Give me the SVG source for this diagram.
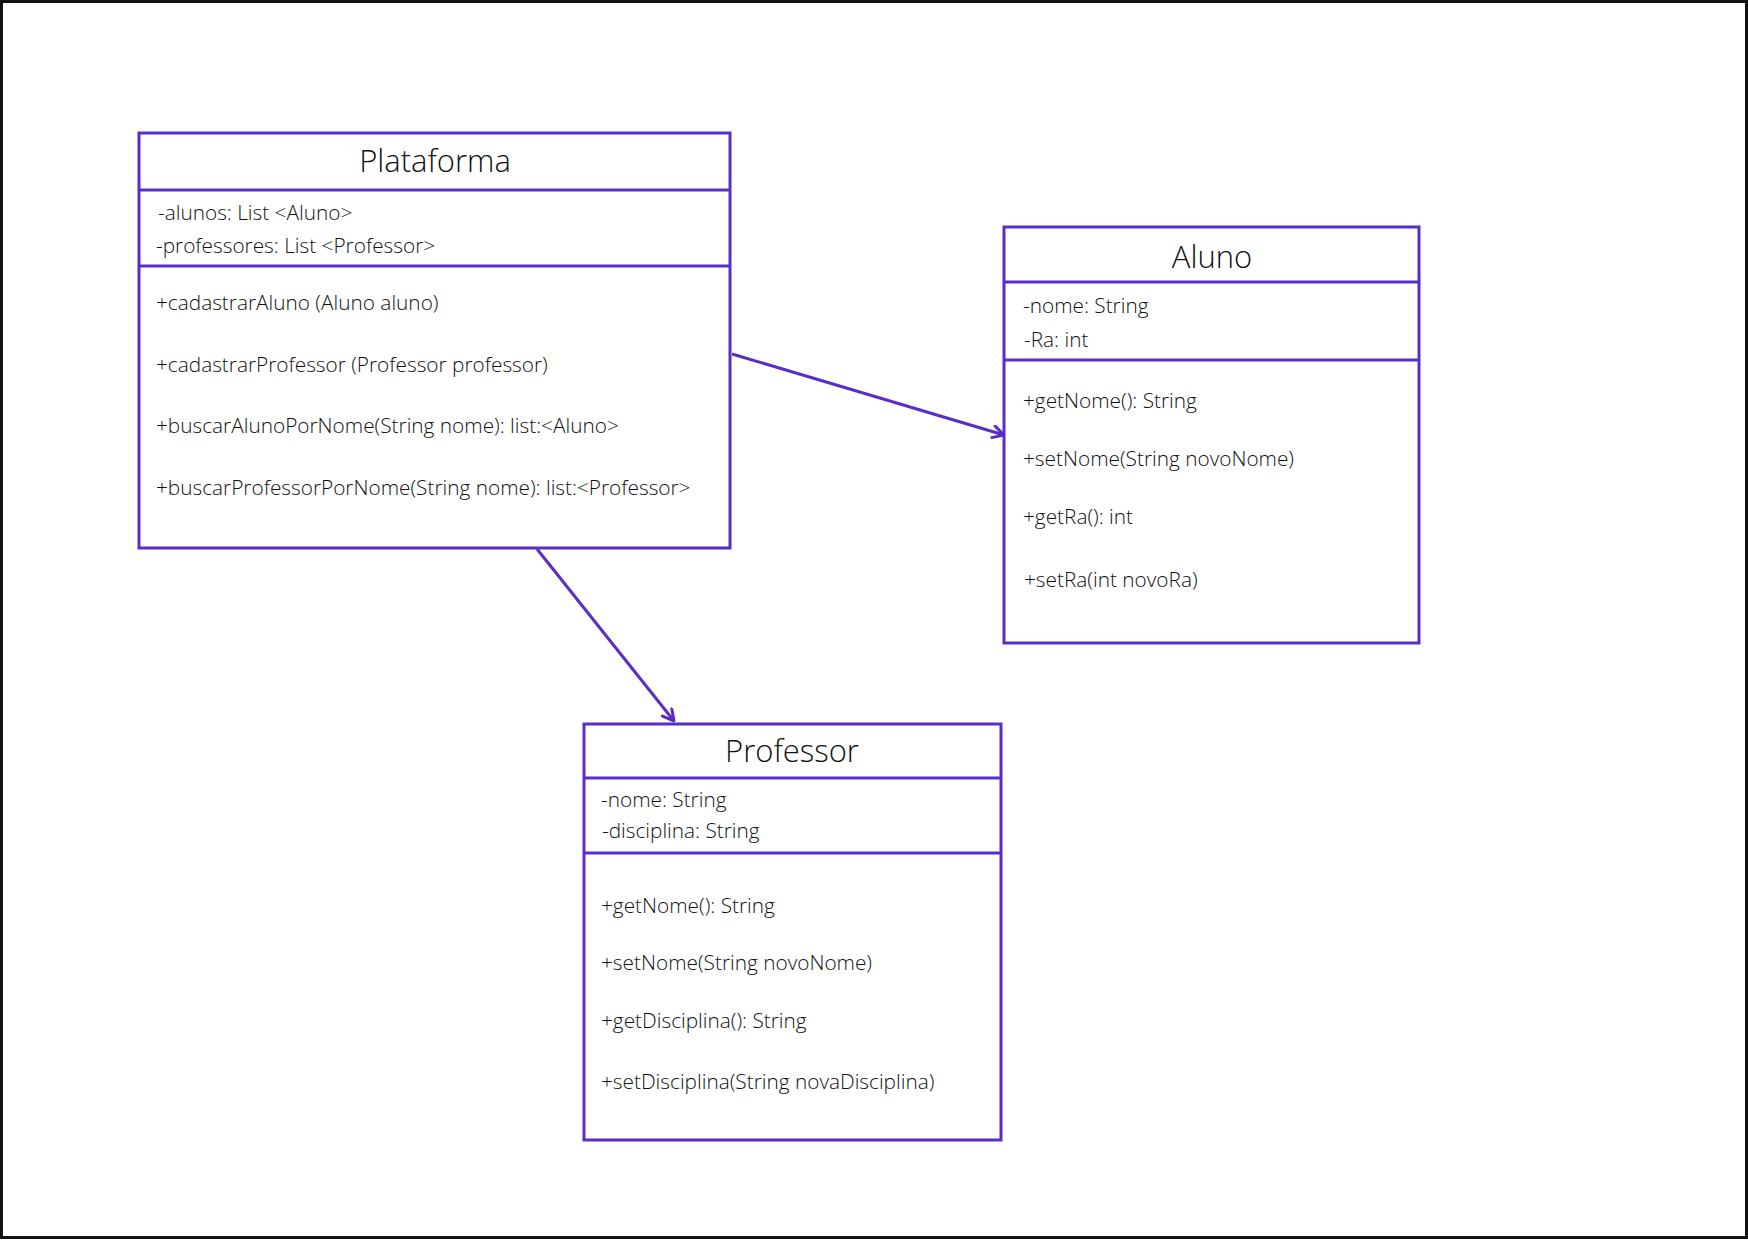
<svg xmlns="http://www.w3.org/2000/svg" width="1748" height="1240" viewBox="0 0 1748 1240">
  <style>
    .box { fill: #ffffff; stroke: #5b2dc8; stroke-width: 3; }
    .div { stroke: #5b2dc8; stroke-width: 3; }
    .link { stroke: #5b2dc8; stroke-width: 3; fill: none; }
    .title { font-family: "Open Sans", "Liberation Sans", sans-serif; font-weight: 300; font-size: 31px; fill: #111111; text-anchor: middle; }
    .member { font-family: "Open Sans", "Liberation Sans", sans-serif; font-weight: 300; font-size: 20.8px; fill: #111111; }
  </style>
  <defs>
    <marker id="arrow" viewBox="0 0 14 14" refX="13" refY="7" markerWidth="14" markerHeight="14" markerUnits="userSpaceOnUse" orient="auto">
      <path d="M2,1 L13,7 L2,13" fill="none" stroke="#5b2dc8" stroke-width="3" stroke-linecap="round" stroke-linejoin="round"/>
    </marker>
  </defs>

  <rect x="0" y="0" width="1748" height="1240" fill="#ffffff"/>
  <rect x="1.5" y="1.5" width="1745" height="1236" fill="none" stroke="#111111" stroke-width="3"/>

  <!-- associations -->
  <g id="connectors">
    <line class="link" x1="732" y1="354" x2="1004" y2="435" marker-end="url(#arrow)"/>
    <line class="link" x1="537" y1="549" x2="674" y2="721" marker-end="url(#arrow)"/>
  </g>

  <g id="plataforma">
    <rect class="box" x="139" y="133" width="591" height="415"/>
    <line class="div" x1="139" y1="190" x2="730" y2="190"/>
    <line class="div" x1="139" y1="266" x2="730" y2="266"/>
    <text class="title" x="435" y="172">Plataforma</text>
    <text class="member" x="158" y="220">-alunos: List &lt;Aluno&gt;</text>
    <text class="member" x="156" y="253">-professores: List &lt;Professor&gt;</text>
    <text class="member" x="156" y="310">+cadastrarAluno (Aluno aluno)</text>
    <text class="member" x="156" y="372">+cadastrarProfessor (Professor professor)</text>
    <text class="member" x="156" y="433">+buscarAlunoPorNome(String nome): list:&lt;Aluno&gt;</text>
    <text class="member" x="156" y="495">+buscarProfessorPorNome(String nome): list:&lt;Professor&gt;</text>
  </g>

  <g id="aluno">
    <rect class="box" x="1004" y="227" width="415" height="416"/>
    <line class="div" x1="1004" y1="282" x2="1419" y2="282"/>
    <line class="div" x1="1004" y1="360" x2="1419" y2="360"/>
    <text class="title" x="1212" y="268">Aluno</text>
    <text class="member" x="1023" y="313">-nome: String</text>
    <text class="member" x="1024" y="347">-Ra: int</text>
    <text class="member" x="1023" y="408">+getNome(): String</text>
    <text class="member" x="1023" y="466">+setNome(String novoNome)</text>
    <text class="member" x="1023" y="524">+getRa(): int</text>
    <text class="member" x="1024" y="587">+setRa(int novoRa)</text>
  </g>

  <g id="professor">
    <rect class="box" x="584" y="724" width="417" height="416"/>
    <line class="div" x1="584" y1="778" x2="1001" y2="778"/>
    <line class="div" x1="584" y1="853" x2="1001" y2="853"/>
    <text class="title" x="792" y="762">Professor</text>
    <text class="member" x="601" y="807">-nome: String</text>
    <text class="member" x="602" y="838">-disciplina: String</text>
    <text class="member" x="601" y="913">+getNome(): String</text>
    <text class="member" x="601" y="970">+setNome(String novoNome)</text>
    <text class="member" x="601" y="1028">+getDisciplina(): String</text>
    <text class="member" x="601" y="1089">+setDisciplina(String novaDisciplina)</text>
  </g>
</svg>
